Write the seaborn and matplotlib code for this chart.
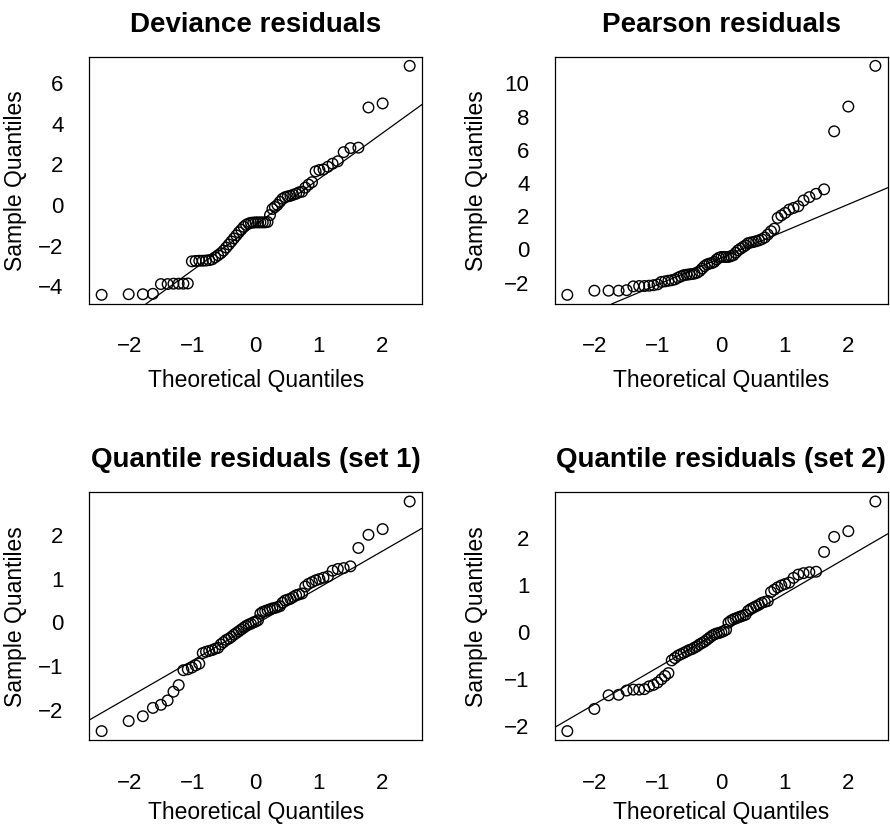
import statistics
import numpy as np
import pandas as pd
import matplotlib
matplotlib.use("Agg")
import matplotlib.pyplot as plt
import seaborn as sns

# ---- data (sorted sample quantiles) ----
titles = ["Deviance residuals", "Pearson residuals",
          "Quantile residuals (set 1)", "Quantile residuals (set 2)"]

deviance = [-4.43, -4.40, -4.40, -4.38, -3.90, -3.90, -3.88, -3.88, -3.88, -3.87,
            -2.78, -2.76, -2.75, -2.75, -2.74, -2.72, -2.68, -2.58, -2.48, -2.38,
            -2.25, -2.10, -1.95, -1.80, -1.65, -1.50, -1.35, -1.22, -1.08, -0.98,
            -0.92, -0.88, -0.87, -0.86, -0.86, -0.86, -0.86, -0.86, -0.84, -0.50,
            -0.20, -0.10, 0.00, 0.15, 0.30, 0.38, 0.42, 0.45, 0.50, 0.55,
            0.62, 0.65, 0.85, 1.00, 1.12, 1.65, 1.72, 1.75, 1.88, 2.03,
            2.15, 2.60, 2.80, 2.82, 4.80, 5.00, 6.85]

pearson = [-2.73, -2.48, -2.48, -2.48, -2.45, -2.22, -2.20, -2.20, -2.18, -2.15,
           -2.10, -1.95, -1.92, -1.88, -1.85, -1.80, -1.70, -1.62, -1.55, -1.52,
           -1.50, -1.48, -1.45, -1.40, -1.30, -1.15, -1.00, -0.90, -0.85, -0.82,
           -0.75, -0.60, -0.50, -0.45, -0.45, -0.45, -0.45, -0.40, -0.35, -0.20,
           -0.05, 0.05, 0.15, 0.25, 0.38, 0.42, 0.45, 0.50, 0.55, 0.62,
           0.72, 0.90, 1.10, 1.25, 1.90, 2.05, 2.20, 2.40, 2.50, 2.60,
           2.95, 3.15, 3.35, 3.62, 7.11, 8.60, 11.05]

quantile1 = [-2.48, -2.25, -2.14, -1.95, -1.88, -1.78, -1.58, -1.43, -1.09, -1.07,
             -1.03, -0.98, -0.94, -0.70, -0.67, -0.65, -0.63, -0.60, -0.58, -0.50,
             -0.45, -0.40, -0.37, -0.33, -0.28, -0.24, -0.20, -0.16, -0.12, -0.08,
             -0.05, -0.03, 0.00, 0.02, 0.05, 0.20, 0.24, 0.26, 0.28, 0.30,
             0.32, 0.33, 0.35, 0.37, 0.45, 0.50, 0.52, 0.54, 0.58, 0.62,
             0.64, 0.66, 0.82, 0.88, 0.92, 0.96, 0.99, 1.02, 1.05, 1.18,
             1.22, 1.24, 1.28, 1.70, 2.00, 2.13, 2.76]

quantile2 = [-2.10, -1.63, -1.34, -1.33, -1.24, -1.22, -1.22, -1.21, -1.15, -1.12,
             -1.07, -1.00, -0.93, -0.87, -0.60, -0.55, -0.50, -0.47, -0.44, -0.41,
             -0.38, -0.36, -0.33, -0.30, -0.26, -0.23, -0.20, -0.16, -0.12, -0.08,
             -0.05, -0.03, -0.02, 0.00, 0.02, 0.05, 0.20, 0.24, 0.27, 0.29,
             0.31, 0.33, 0.35, 0.37, 0.45, 0.49, 0.52, 0.55, 0.58, 0.62,
             0.64, 0.66, 0.85, 0.90, 0.95, 0.99, 1.02, 1.05, 1.15, 1.22,
             1.25, 1.27, 1.28, 1.70, 2.02, 2.14, 2.77]

# reference line (intercept, slope) of each panel
line_intercepts = [-0.974, -0.50, -0.039, 0.033]
line_slopes = [2.252, 1.603, 0.832, 0.780]

y_ticks = [[-4, -2, 0, 2, 4, 6], [-2, 0, 2, 4, 6, 8, 10],
           [-2, -1, 0, 1, 2], [-2, -1, 0, 1, 2]]
x_ticks = [-2, -1, 0, 1, 2]

series = [deviance, pearson, quantile1, quantile2]

# ---- style ----
sns.set_style("white")
plt.rcParams["font.family"] = ["Liberation Sans", "DejaVu Sans"]

W, H = 890, 826
fig = plt.figure(figsize=(W / 100, H / 100), dpi=100)

# axes boxes in pixels: left, top, right, bottom
boxes = [(89.3, 56.7, 422.0, 304.0), (555.0, 56.7, 887.7, 304.0),
         (89.3, 492.3, 422.0, 740.3), (555.0, 492.3, 887.7, 740.3)]
ylabel_x = [-0.187, -0.200, -0.187, -0.200]
xlabel_y = [-0.262, -0.262, -0.245, -0.245]

nd = statistics.NormalDist()

for k in range(4):
    l, t, r, b = boxes[k]
    ax = fig.add_axes([l / W, 1 - b / H, (r - l) / W, (b - t) / H])
    vals = np.array(series[k])
    n = len(vals)
    theo = np.array([nd.inv_cdf((i - 0.5) / n) for i in range(1, n + 1)])
    df = pd.DataFrame({"Theoretical Quantiles": theo, "Sample Quantiles": vals})
    sns.scatterplot(data=df, x="Theoretical Quantiles", y="Sample Quantiles", ax=ax,
                    marker="o", s=58, facecolor="none", edgecolor="black",
                    linewidth=1.0, zorder=3)
    ax.axline((0, line_intercepts[k]), slope=line_slopes[k], color="black", lw=0.9, zorder=2)

    # R-style 4% padding
    xr = theo.max() - theo.min()
    yr = vals.max() - vals.min()
    ax.set_xlim(theo.min() - 0.04 * xr, theo.max() + 0.04 * xr)
    ax.set_ylim(vals.min() - 0.04 * yr, vals.max() + 0.04 * yr)

    ax.set_xticks(x_ticks)
    ax.set_yticks(y_ticks[k])
    ax.tick_params(axis="both", direction="out", length=9.4, width=0.9,
                   color="black", labelsize=16, labelcolor="black")
    ax.tick_params(axis="x", pad=14)
    ax.tick_params(axis="y", pad=9)
    for s in ax.spines.values():
        s.set_visible(True)
        s.set_color("black")
        s.set_linewidth(0.9)

    ax.set_xlabel("Theoretical Quantiles", fontsize=16.5, color="black")
    ax.set_ylabel("Sample Quantiles", fontsize=16.5, color="black")
    ax.xaxis.set_label_coords(0.5, xlabel_y[k])
    ax.yaxis.set_label_coords(ylabel_x[k], 0.5)
    ax.set_title(titles[k], fontsize=20, fontweight="bold", pad=18, color="black")

fig.savefig("out.png", dpi=100)
